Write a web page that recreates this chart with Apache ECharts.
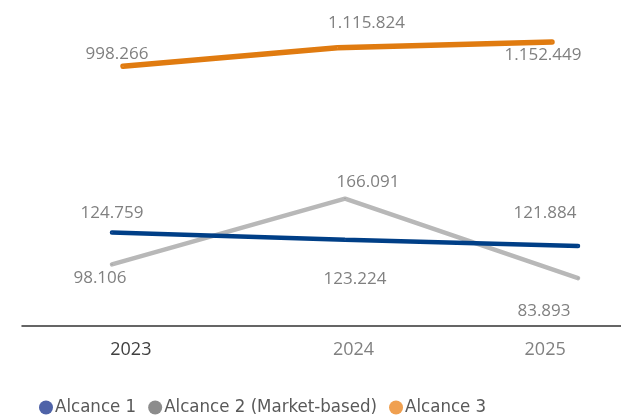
<!DOCTYPE html>
<html><head><meta charset="utf-8">
<script src="https://cdn.jsdelivr.net/npm/echarts@6/dist/echarts.min.js"></script>
<style>html,body{margin:0;padding:0;background:#fff}#c{width:621px;height:415px}</style>
</head><body><div id="c"></div>
<script>
const years = ['2023', '2024', '2025'];
const alcance1 = [124759, 123224, 121884];
const alcance2 = [98106, 166091, 83893];
const alcance3 = [998266, 1115824, 1152449];
const seriesNames = ['Alcance 1', 'Alcance 2 (Market-based)', 'Alcance 3'];

// label offsets (layout only)
const off1 = [[0, -5], [10, 53], [-33, -19]];
const off2 = [[-12, 28], [23, -2], [-34, 47]];
const off3 = [[-6, 2], [29, -11], [-9, 27]];
// x-axis label shifts (layout only)
const yearPad = [18, 64, 48];

const fmt = v => String(v).replace(/\B(?=(\d{3})+(?!\d))/g, '.');
const mk = (vals, offs) => vals.map((v, i) => ({ value: v, label: { offset: offs[i] } }));
const lbl = () => ({ show: true, position: 'top', color: '#808080', fontSize: 17, fontFamily: 'Open Sans', formatter: p => fmt(p.value) });

const chart = echarts.init(document.getElementById('c'), null, { renderer: 'canvas' });
chart.setOption({
  animation: false,
  grid: [
    { left: 22, right: 0, top: 0, bottom: 89 },
    { left: 112, right: 43, top: 0, bottom: 89 },
    { left: 123, right: 69, top: 0, bottom: 89 }
  ],
  legend: {
    data: seriesNames, left: 34, top: 393, icon: 'circle', itemWidth: 14, itemHeight: 14, itemGap: 12,
    textStyle: { fontFamily: 'DejaVu Sans Condensed', fontSize: 18.5, color: '#595959', padding: [0, 0, 0, -3] }
  },
  xAxis: [
    { type: 'category', gridIndex: 0, data: years, boundaryGap: true,
      axisLine: { lineStyle: { color: '#333', width: 1.5 } }, axisTick: { show: false },
      axisLabel: { margin: 15, fontSize: 18, fontFamily: 'Open Sans',
        formatter: (v, i) => '{s' + i + '|' + v + '}',
        rich: {
          s0: { color: '#404040', fontSize: 18, fontFamily: 'Open Sans', padding: [0, 0, 0, yearPad[0]] },
          s1: { color: '#808080', fontSize: 18, fontFamily: 'Open Sans', padding: [0, 0, 0, yearPad[1]] },
          s2: { color: '#808080', fontSize: 18, fontFamily: 'Open Sans', padding: [0, 0, 0, yearPad[2]] }
        } } },
    { type: 'category', gridIndex: 1, data: years, boundaryGap: false, show: false },
    { type: 'category', gridIndex: 2, data: years, boundaryGap: false, show: false }
  ],
  yAxis: [
    { type: 'value', gridIndex: 0, min: 0, max: 1, show: false },
    { type: 'value', gridIndex: 1, min: 34334, max: 371459, show: false },
    { type: 'value', gridIndex: 1, min: 104572, max: 175029, show: false },
    { type: 'value', gridIndex: 2, min: -655266, max: 1419846, show: false }
  ],
  series: [
    { name: seriesNames[1], type: 'line', xAxisIndex: 1, yAxisIndex: 1, data: mk(alcance2, off2), z: 2,
      symbol: 'circle', symbolSize: 1, itemStyle: { color: '#8c8c8c' },
      lineStyle: { color: '#b8b8b8', width: 4.5, cap: 'round' }, label: lbl() },
    { name: seriesNames[0], type: 'line', xAxisIndex: 1, yAxisIndex: 2, data: mk(alcance1, off1), z: 3,
      symbol: 'circle', symbolSize: 1, itemStyle: { color: '#4f63a8' },
      lineStyle: { color: '#003f87', width: 4.5, cap: 'round' }, label: lbl() },
    { name: seriesNames[2], type: 'line', xAxisIndex: 2, yAxisIndex: 3, data: mk(alcance3, off3), z: 3,
      symbol: 'circle', symbolSize: 1, itemStyle: { color: '#f0a050' },
      lineStyle: { color: '#e07b10', width: 5.5, cap: 'round' }, label: lbl() }
  ]
});
</script></body></html>
